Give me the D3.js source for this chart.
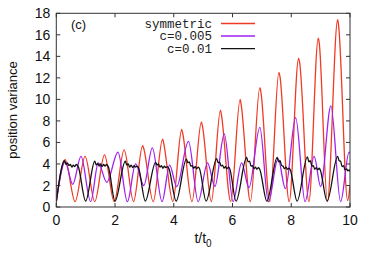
<!DOCTYPE html>
<html><head><meta charset="utf-8">
<script src="https://cdn.jsdelivr.net/npm/d3@7"></script>
<style>body{margin:0;background:#fff}svg{display:block}</style>
</head><body><svg id="c" width="374" height="262"></svg>
<script>
// ---- data ----
const xTicks = [0, 2, 4, 6, 8, 10];
const yTicks = [0, 2, 4, 6, 8, 10, 12, 14, 16, 18];
const seriesNames = ["symmetric", "c=0.005", "c=0.01"];
const seriesColors = ["#f03a24", "#a020f0", "#111111"];

// symmetric (red): troughs/peaks
const redT = [0, 0.30, 0.64, 0.98, 1.31, 1.64, 1.97, 2.31, 2.63, 2.94, 2.97, 3.30, 3.62, 3.65, 3.97, 4.27, 4.30, 4.62, 4.94, 4.97, 5.28, 5.59, 5.62, 5.94, 6.26, 6.29, 6.61, 6.93, 6.96, 7.27, 7.58, 7.61, 7.93, 8.25, 8.28, 8.60, 8.92, 8.95, 9.23, 9.58, 9.61, 9.92, 10.0];
const redV = [0.5, 4.4, 0.5, 4.7, 0.5, 4.85, 0.5, 5.3, 0.5, 5.7, 5.5, 0.5, 6.3, 6.0, 0.5, 7.2, 6.9, 0.5, 7.9, 7.6, 0.5, 9.0, 8.6, 0.5, 10.0, 9.6, 0.5, 11.1, 10.8, 0.5, 12.5, 12.2, 0.5, 13.8, 13.5, 0.5, 15.7, 15.3, 0.5, 17.4, 16.9, 0.6, 2.0];

// c=0.005 (purple)
const purT = [0, 0.30, 0.56, 0.84, 1.17, 1.43, 1.72, 2.10, 2.42, 2.70, 2.98, 3.27, 3.60, 3.86, 4.10, 4.50, 4.83, 5.15, 5.40, 5.72, 6.02, 6.31, 6.56, 6.93, 7.22, 7.55, 7.80, 8.15, 8.47, 8.78, 9.00, 9.35, 9.68, 9.97, 10.0];
const purV = [0.5, 4.2, 2.1, 4.7, 0.5, 4.1, 2.3, 5.1, 0.5, 4.0, 2.0, 5.5, 0.5, 3.9, 1.9, 6.1, 0.5, 4.1, 1.9, 6.8, 0.5, 4.1, 1.8, 7.4, 0.5, 4.5, 1.7, 8.3, 0.5, 4.7, 1.9, 9.4, 0.5, 5.1, 5.0];

// c=0.01 (black)
const blkT = [0,
  0.28, 0.33, 0.38, 0.43, 0.48, 0.53, 0.58, 0.63, 0.68, 0.74, 1.00,
  1.31, 1.36, 1.41, 1.46, 1.51, 1.56, 1.61, 1.66, 1.71, 1.77, 2.00,
  2.35, 2.40, 2.45, 2.50, 2.55, 2.60, 2.65, 2.70, 2.75, 2.80, 3.03,
  3.38, 3.43, 3.48, 3.53, 3.58, 3.63, 3.68, 3.73, 3.78, 3.83, 4.08,
  4.43, 4.48, 4.53, 4.58, 4.63, 4.68, 4.73, 4.78, 4.83, 4.87, 5.10,
  5.46, 5.51, 5.56, 5.61, 5.66, 5.71, 5.76, 5.81, 5.86, 5.90, 6.12,
  6.48, 6.53, 6.58, 6.63, 6.68, 6.73, 6.78, 6.83, 6.88, 6.92, 7.17,
  7.52, 7.57, 7.62, 7.67, 7.72, 7.77, 7.82, 7.87, 7.92, 7.96, 8.20,
  8.55, 8.60, 8.65, 8.70, 8.75, 8.80, 8.85, 8.90, 8.95, 8.98, 9.22,
  9.58, 9.63, 9.68, 9.73, 9.78, 9.83, 9.88, 9.93, 9.97, 10.0];
const blkV = [0.5,
  4.3, 3.95, 4.1, 3.85, 3.95, 3.7, 3.9, 3.75, 3.95, 3.8, 0.55,
  4.25, 3.9, 4.05, 3.8, 4.0, 3.75, 3.95, 3.8, 3.95, 3.75, 0.55,
  4.25, 3.9, 4.0, 3.7, 3.9, 3.65, 3.85, 3.7, 3.8, 3.65, 0.55,
  4.15, 3.9, 4.0, 3.7, 3.85, 3.6, 3.8, 3.65, 3.75, 3.6, 0.55,
  4.45, 4.1, 4.2, 3.8, 3.85, 3.6, 3.75, 3.55, 3.7, 3.6, 0.55,
  4.5, 4.1, 4.2, 3.8, 3.9, 3.6, 3.75, 3.55, 3.7, 3.6, 0.55,
  4.6, 4.2, 4.25, 3.8, 3.85, 3.55, 3.7, 3.5, 3.65, 3.55, 0.55,
  4.6, 4.2, 4.3, 3.85, 3.8, 3.55, 3.7, 3.5, 3.6, 3.5, 0.55,
  4.65, 4.2, 4.3, 3.8, 3.85, 3.5, 3.65, 3.45, 3.6, 3.5, 0.55,
  4.7, 4.3, 4.25, 3.75, 3.85, 3.45, 3.55, 3.35, 3.45, 3.3];

// ---- layout ----
const svg = d3.select("#c");
const L = 56.3, R = 350, T = 13.3, B = 207;
const x = d3.scaleLinear().domain([0, 10]).range([L, R]);
const y = d3.scaleLinear().domain([0, 18]).range([B, T]);
const font = "'Liberation Sans', Arial, sans-serif";
const mono = "'Liberation Mono', 'Courier New', monospace";

// ticks (inward, mirrored)
const tk = 4;
const g = svg.append("g");
yTicks.forEach(v => {
  g.append("line").attr("x1", L).attr("x2", L + tk).attr("y1", y(v)).attr("y2", y(v)).attr("stroke", "#333");
  g.append("line").attr("x1", R).attr("x2", R - tk).attr("y1", y(v)).attr("y2", y(v)).attr("stroke", "#333");
  g.append("text").attr("x", L - 6).attr("y", y(v)).attr("dy", "0.36em").attr("text-anchor", "end")
    .attr("font-family", font).attr("font-size", 14).attr("fill", "#111").text(v);
});
xTicks.forEach(v => {
  g.append("line").attr("x1", x(v)).attr("x2", x(v)).attr("y1", B).attr("y2", B - tk).attr("stroke", "#333");
  g.append("line").attr("x1", x(v)).attr("x2", x(v)).attr("y1", T).attr("y2", T + tk).attr("stroke", "#333");
  g.append("text").attr("x", x(v)).attr("y", 225).attr("text-anchor", "middle")
    .attr("font-family", font).attr("font-size", 14).attr("fill", "#111").text(v);
});

// curves
const mk = (ts, vs) => ts.map((t, i) => [t, vs[i]]);
const line = d3.line().x(d => x(d[0])).y(d => y(d[1])).curve(d3.curveMonotoneX);
svg.append("clipPath").attr("id", "pc").append("rect")
  .attr("x", L).attr("y", T).attr("width", R - L).attr("height", B - T);
const data = [mk(redT, redV), mk(purT, purV), mk(blkT, blkV)];
[0, 1, 2].forEach(i => {
  svg.append("path").attr("d", line(data[i])).attr("fill", "none")
    .attr("stroke", seriesColors[i]).attr("stroke-width", 1.3)
    .attr("stroke-linejoin", "round")
    .attr("clip-path", "url(#pc)");
});

// frame
svg.append("rect").attr("x", L).attr("y", T).attr("width", R - L).attr("height", B - T)
  .attr("fill", "none").attr("stroke", "#333").attr("stroke-width", 1);

// legend
const ly = [23.5, 36, 48.7];
seriesNames.forEach((n, i) => {
  svg.append("text").attr("x", 212).attr("y", ly[i]).attr("dy", "0.35em").attr("text-anchor", "end")
    .attr("font-family", mono).attr("font-size", 12.5).attr("fill", "#222").text(n);
  svg.append("line").attr("x1", 221).attr("x2", 255).attr("y1", ly[i]).attr("y2", ly[i])
    .attr("stroke", seriesColors[i]).attr("stroke-width", 1.3);
});

// panel label
svg.append("text").attr("x", 71).attr("y", 24.5).attr("dy", "0.35em")
  .attr("font-family", font).attr("font-size", 13).attr("fill", "#111").text("(c)");

// axis titles
svg.append("text").attr("transform", "translate(17,110) rotate(-90)").attr("text-anchor", "middle")
  .attr("font-family", font).attr("font-size", 13).attr("fill", "#111").text("position variance");
const xt = svg.append("text").attr("x", 203).attr("y", 243).attr("text-anchor", "middle")
  .attr("font-family", font).attr("font-size", 14).attr("fill", "#111");
xt.append("tspan").text("t/t");
xt.append("tspan").attr("font-size", 10).attr("dy", 4).text("0");
</script></body></html>
